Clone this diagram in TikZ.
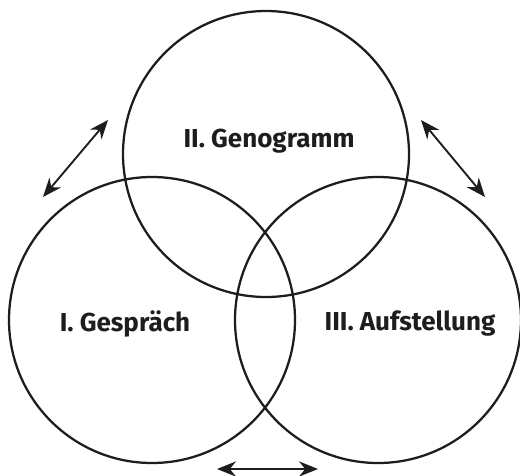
\documentclass[tikz,border=0pt]{standalone}
\usepackage{fontspec}
\setmainfont{Fira Sans}
\usetikzlibrary{arrows.meta,positioning}
\definecolor{ink}{HTML}{1E1C1C}

\begin{document}
\begin{tikzpicture}[
x=0.75pt, y=-0.75pt,
ring/.style={draw=ink, circle, line width=1.7pt, minimum size=214.5pt, inner sep=0pt},
label/.style={font=\fontsize{19.5}{22}\selectfont\bfseries, text=ink},
arrow/.style={{Stealth[length=5mm,width=4mm]}-{Stealth[length=5mm,width=4mm]}, line width=1.4pt, draw=ink}
]
\useasboundingbox (0,0) rectangle (520,475);
\node[ring] (gen) at (266,154) {};
\node[ring] (ges) at (152,320) {};
\node[ring] (auf) at (378,320) {};
\node[label] (tgen) at (269,141) {II. Genogramm};
\node[label] (tges) at (125,324) {I. Gespräch};
\node[label] (tauf) at (410,324) {III. Aufstellung};
\coordinate (l1) at (43,197);
\coordinate (l2) at (108,120);
\coordinate (r1) at (421,120);
\coordinate (r2) at (485,197);
\coordinate (b1) at (217,469);
\coordinate (b2) at (318,469);
\draw[arrow] (l1) -- (l2);
\draw[arrow] (r1) -- (r2);
\draw[arrow] (b1) -- (b2);
\end{tikzpicture}
\end{document}
